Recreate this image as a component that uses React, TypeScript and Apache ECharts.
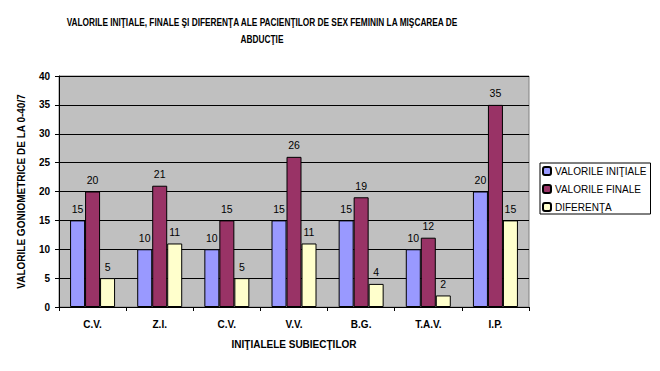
import React, { useEffect, useRef } from "react";
import * as echarts from "echarts";

const categories = ["C.V.", "Z.I.", "C.V.", "V.V.", "B.G.", "T.A.V.", "I.P."];
const initialValues = [15, 10, 10, 15, 15, 10, 20];
const finalValues = [20, 21, 15, 26, 19, 12, 35];
const diffValues = [5, 11, 5, 11, 4, 2, 15];
const seriesNames = ["VALORILE INIŢIALE", "VALORILE FINALE", "DIFERENŢA"];
const titleLines = [
  "VALORILE INIŢIALE, FINALE ŞI DIFERENŢA ALE PACIENŢILOR DE SEX FEMININ LA MIŞCAREA DE",
  "ABDUCŢIE",
];
const yAxisName = "VALORILE GONIOMETRICE DE LA 0-40/7";
const xAxisName = "INIŢIALELE SUBIECŢILOR";

export default function App() {
  const ref = useRef<HTMLDivElement>(null);
  useEffect(() => {
    if (!ref.current) return;
    const chart = echarts.init(ref.current, null, { renderer: "svg" });
    const colors = ["#9999FF", "#993366", "#FFFFCC"];
    const data = [initialValues, finalValues, diffValues];
    const sans = "'Liberation Sans', Arial, sans-serif";
    chart.setOption({
      animation: false,
      backgroundColor: "#FFFFFF",
      graphic: titleLines.map((t, i) => ({
        type: "text",
        x: 262,
        y: 22 + i * 17,
        scaleX: 0.79,
        silent: true,
        style: {
          text: t,
          textAlign: "center",
          textVerticalAlign: "middle",
          fontFamily: sans,
          fontWeight: "bold",
          fontSize: 10.5,
          fill: "#000",
        },
      })),
      legend: {
        orient: "vertical",
        left: 540,
        top: 163,
        width: 108,
        padding: [3, 4, 2, 2],
        itemGap: 8,
        itemWidth: 8,
        itemHeight: 8,
        borderColor: "#000",
        borderWidth: 1,
        data: seriesNames,
        textStyle: { fontFamily: sans, fontSize: 10, color: "#000", padding: [0, 0, 0, -1] },
      },
      grid: {
        left: 59,
        right: 131,
        top: 76,
        bottom: 64,
        show: true,
        backgroundColor: "#C0C0C0",
        borderColor: "#808080",
        borderWidth: 1,
      },
      xAxis: {
        type: "category",
        data: categories,
        name: xAxisName,
        nameLocation: "middle",
        nameGap: 32,
        nameTextStyle: { fontFamily: sans, fontWeight: "bold", fontSize: 10, color: "#000" },
        axisLine: { show: true, lineStyle: { color: "#000", width: 1 } },
        axisTick: { show: true, length: 4, lineStyle: { color: "#000" } },
        axisLabel: { fontFamily: sans, fontWeight: "bold", fontSize: 10, color: "#000", margin: 12 },
      },
      yAxis: {
        type: "value",
        min: 0,
        max: 40,
        interval: 5,
        name: yAxisName,
        nameLocation: "middle",
        nameGap: 33,
        nameTextStyle: { fontFamily: sans, fontWeight: "bold", fontSize: 10, color: "#000" },
        axisLine: { show: true, lineStyle: { color: "#000", width: 1 } },
        axisTick: { show: true, length: 4, lineStyle: { color: "#000" } },
        axisLabel: { fontFamily: sans, fontWeight: "bold", fontSize: 10, color: "#000", margin: 9 },
        splitLine: { show: true, lineStyle: { color: "#000", width: 1 } },
      },
      series: seriesNames.map((name, i) => ({
        name,
        type: "bar",
        data: data[i],
        barWidth: 15,
        barGap: "0%",
        itemStyle: { color: colors[i], borderColor: "#000", borderWidth: 1 },
        label: {
          show: true,
          position: "top",
          distance: 6,
          fontFamily: sans,
          fontSize: 10.5,
          color: "#000",
        },
      })),
    });
    return () => chart.dispose();
  }, []);
  return <div ref={ref} style={{ width: 660, height: 371, position: "absolute", left: 0, top: 0 }} />;
}
